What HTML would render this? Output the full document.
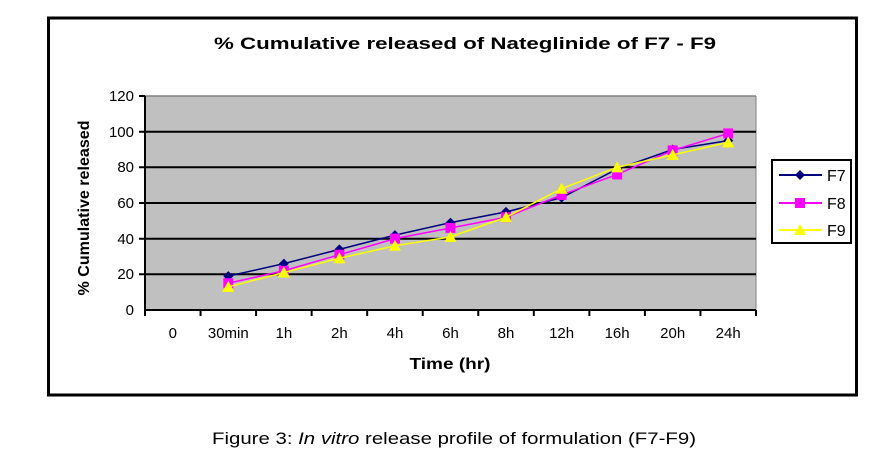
<!DOCTYPE html>
<html><head><meta charset="utf-8"><style>
html,body{margin:0;padding:0;background:#fff;}
svg{display:block;font-family:"Liberation Sans",Arial,sans-serif;}
</style></head><body>
<svg id="s" width="878" height="454" viewBox="0 0 878 454" xmlns="http://www.w3.org/2000/svg">
<rect x="0" y="0" width="878" height="454" fill="#fff"/>
<rect x="48.5" y="18" width="808" height="377" fill="#fff" stroke="#000" stroke-width="3"/>
<text x="465" y="49" text-anchor="middle" font-size="16.5" font-weight="bold" textLength="502" lengthAdjust="spacingAndGlyphs">% Cumulative released of Nateglinide of F7 - F9</text>
<rect x="145" y="96" width="611" height="214" fill="#c0c0c0"/>
<line x1="145" y1="96" x2="756" y2="96" stroke="#808080" stroke-width="1.5"/>
<line x1="756" y1="96" x2="756" y2="310" stroke="#808080" stroke-width="1"/>
<g stroke="#000" stroke-width="2">
<line x1="139" y1="131.7" x2="756" y2="131.7"/>
<line x1="139" y1="167.3" x2="756" y2="167.3"/>
<line x1="139" y1="203" x2="756" y2="203"/>
<line x1="139" y1="238.7" x2="756" y2="238.7"/>
<line x1="139" y1="274.3" x2="756" y2="274.3"/>
<line x1="139" y1="96" x2="145" y2="96"/>
<line x1="145" y1="96" x2="145" y2="310"/>
<line x1="145" y1="310" x2="756" y2="310"/>
</g>
<g id="ticks" stroke="#000" stroke-width="2"></g>
<g font-size="15" text-anchor="end" fill="#000">
<text x="134" y="101">120</text><text x="134" y="137">100</text><text x="134" y="172">80</text>
<text x="134" y="208">60</text><text x="134" y="244">40</text><text x="134" y="279">20</text><text x="134" y="315">0</text>
</g>
<g font-size="15" text-anchor="middle" fill="#000">
<text x="172.8" y="338">0</text><text x="228.3" y="338">30min</text><text x="283.9" y="338">1h</text>
<text x="339.4" y="338">2h</text><text x="395" y="338">4h</text><text x="450.5" y="338">6h</text>
<text x="506" y="338">8h</text><text x="561.6" y="338">12h</text><text x="617.1" y="338">16h</text>
<text x="672.7" y="338">20h</text><text x="728.2" y="338">24h</text>
</g>
<text x="450" y="369" text-anchor="middle" font-size="15.5" font-weight="bold" textLength="81" lengthAdjust="spacingAndGlyphs">Time (hr)</text>
<text transform="translate(89,208) rotate(-90)" text-anchor="middle" font-size="15.5" font-weight="bold" textLength="175" lengthAdjust="spacingAndGlyphs">% Cumulative released</text>
<g id="series"></g>
<rect x="772" y="160" width="79" height="83" fill="#fff" stroke="#000" stroke-width="2"/>
<line x1="779" y1="175" x2="822" y2="175" stroke="#000080" stroke-width="2"/>
<polygon points="800,170 805,175 800,180 795,175" fill="#000080"/>
<line x1="779" y1="203" x2="822" y2="203" stroke="#ff00ff" stroke-width="2"/>
<rect x="795" y="198" width="10" height="10" fill="#ff00ff"/>
<line x1="779" y1="230" x2="822" y2="230" stroke="#ffff00" stroke-width="2"/>
<polygon points="800,224 806,235 794,235" fill="#ffff00"/>
<g font-size="16"><text x="827" y="181">F7</text><text x="827" y="209">F8</text><text x="827" y="236">F9</text></g>
<text x="454" y="444" text-anchor="middle" font-size="17" textLength="484" lengthAdjust="spacingAndGlyphs">Figure 3: <tspan font-style="italic">In vitro</tspan> release profile of formulation (F7-F9)</text>
<script>
var ns="http://www.w3.org/2000/svg",s=document.getElementById("series"),t=document.getElementById("ticks");
function el(n,a,p){var e=document.createElementNS(ns,n);for(var k in a)e.setAttribute(k,a[k]);p.appendChild(e);return e;}
for(var i=0;i<=11;i++){var x=145+55.545*i;el("line",{x1:x,y1:310,x2:x,y2:316},t);}
var xs=[];for(var i=1;i<=10;i++)xs.push(145+55.545*(i+0.5));
function Y(v){return 310-v*214/120;}
var data=[["#000080",[19,26,34,42,49,55,63,79,90,95],"d"],["#ff00ff",[15,22,31,40,46,52,64.5,76,89.5,99],"s"],["#ffff00",[13,21,29,36,41,52,68,80,87,94],"t"]];
data.forEach(function(d){
var pts=d[1].map(function(v,i){return xs[i]+","+Y(v);}).join(" ");
el("polyline",{points:pts,fill:"none",stroke:d[0],"stroke-width":1.5},s);
d[1].forEach(function(v,i){var x=xs[i],y=Y(v);
if(d[2]=="d")el("polygon",{points:(x)+","+(y-5)+" "+(x+5)+","+y+" "+x+","+(y+5)+" "+(x-5)+","+y,fill:d[0]},s);
else if(d[2]=="s")el("rect",{x:x-5,y:y-5,width:10,height:10,fill:d[0]},s);
else el("polygon",{points:x+","+(y-6)+" "+(x+6)+","+(y+5)+" "+(x-6)+","+(y+5),fill:d[0]},s);});
});
</script>
</svg>
</body></html>
